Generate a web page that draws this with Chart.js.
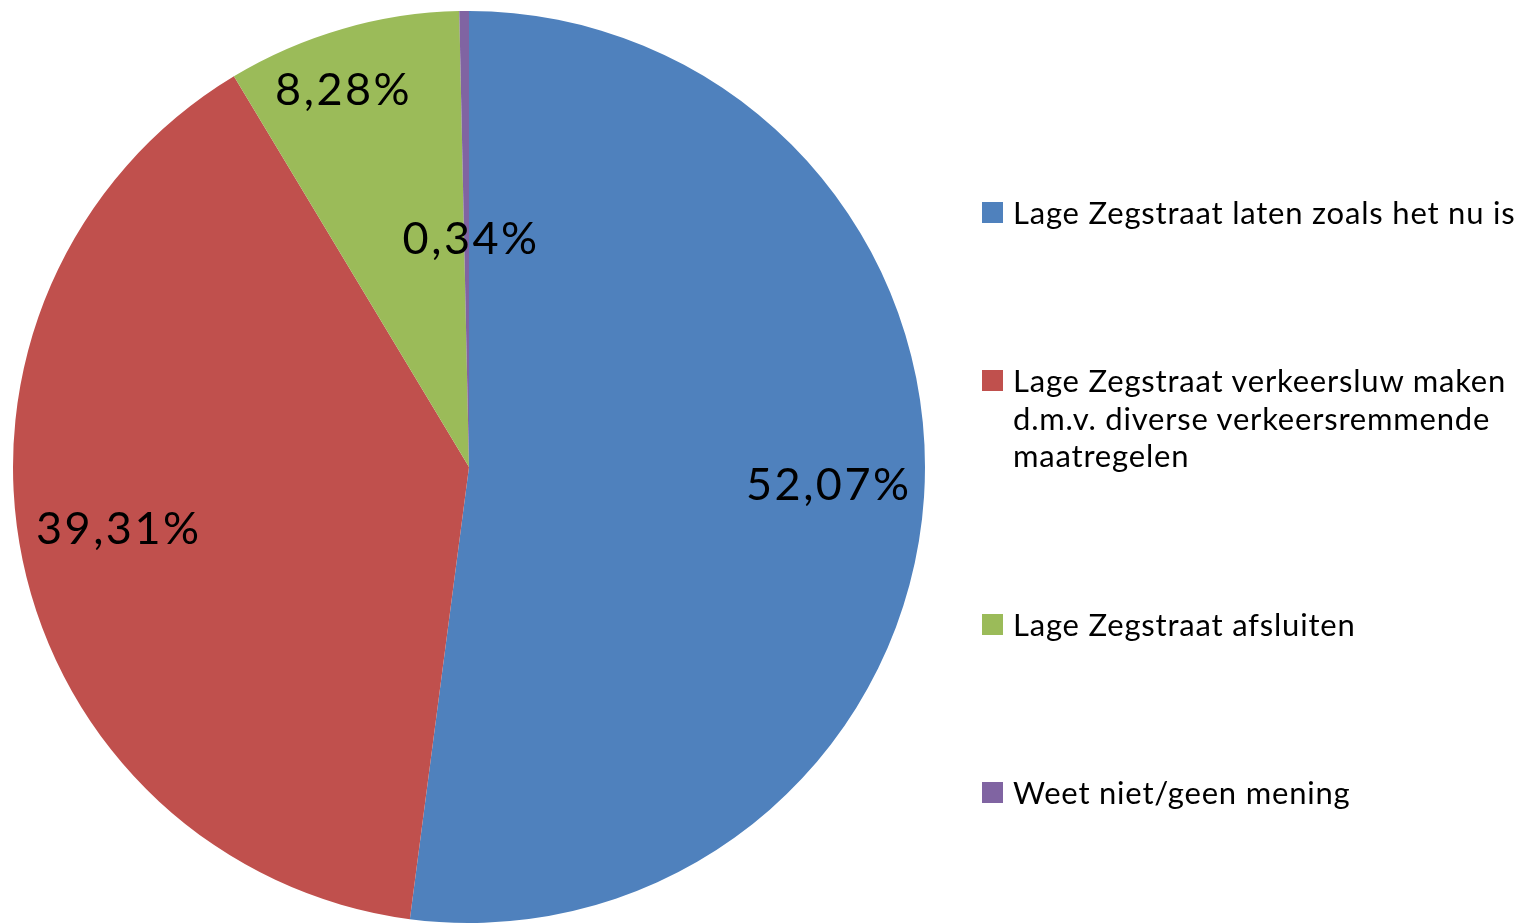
<!DOCTYPE html>
<html>
<head>
<meta charset="utf-8">
<script src="https://cdn.jsdelivr.net/npm/chart.js@4"></script>
<style>
    html, body { margin: 0; padding: 0; background: #fff; }
    #wrap { position: relative; width: 1528px; height: 923px; }
    #legend { position: absolute; left: 982px; top: 0; font-family: Lato, "Noto Sans", sans-serif; font-size: 31px; letter-spacing: 0.8px; line-height: 37.5px; color: #000; }
    .item { position: absolute; left: 0; white-space: nowrap; }
    .box { position: absolute; left: 0; top: 8px; width: 21px; height: 21px; }
    .txt { position: absolute; left: 31px; top: 0; }
</style>
</head>
<body>
<div id="wrap">
    <canvas id="pieChart" width="1528" height="923"></canvas>
    <div id="legend"></div>
</div>
<script>
// Data dari grafik
const labels = [
    'Lage Zegstraat laten zoals het nu is',
    'Lage Zegstraat verkeersluw maken d.m.v. diverse verkeersremmende maatregelen',
    'Lage Zegstraat afsluiten',
    'Weet niet/geen mening'
];
const percentages = [52.07, 39.31, 8.28, 0.34];
const colors = ['#4F81BD', '#C0504D', '#9BBB59', '#8064A2'];

// Regels van de legenda (zoals in het origineel afgebroken)
const legendLines = [
    ['Lage Zegstraat laten zoals het nu is'],
    ['Lage Zegstraat verkeersluw maken', 'd.m.v. diverse verkeersremmende', 'maatregelen'],
    ['Lage Zegstraat afsluiten'],
    ['Weet niet/geen mening']
];
const legendTops = [194, 362, 606, 774];

// Afstand van label tot middelpunt (fractie van straal) en hoekcorrectie
const labelRadius = [0.79, 0.78, 0.87, 0.50];
const labelAngleShift = [-0.015, 0.03, -0.04, 0.02];

function formatPct(v) {
    return v.toFixed(2).replace('.', ',') + '%';
}

// Plugin om percentages op de taartpunten te tekenen
const pctLabels = {
    id: 'pctLabels',
    afterDatasetsDraw(chart) {
        const ctx = chart.ctx;
        const meta = chart.getDatasetMeta(0);
        ctx.save();
        ctx.font = '45px Lato, "Noto Sans", sans-serif';
        ctx.letterSpacing = '2.5px';
        ctx.fillStyle = '#000';
        ctx.textAlign = 'center';
        ctx.textBaseline = 'middle';
        meta.data.forEach((arc, i) => {
            const p = arc.getProps(['x', 'y', 'startAngle', 'endAngle', 'outerRadius'], true);
            const mid = (p.startAngle + p.endAngle) / 2 + labelAngleShift[i];
            const r = p.outerRadius * labelRadius[i];
            ctx.fillText(formatPct(percentages[i]), p.x + Math.cos(mid) * r, p.y + Math.sin(mid) * r);
        });
        ctx.restore();
    }
};

const ctxPie = document.getElementById('pieChart').getContext('2d');
const pieChart = new Chart(ctxPie, {
    type: 'pie',
    data: {
        labels: labels,
        datasets: [{
            data: percentages,
            backgroundColor: colors,
            borderWidth: 0
        }]
    },
    options: {
        responsive: false,
        animation: false,
        layout: {
            padding: { left: 13, top: 11, right: 603, bottom: 0 }
        },
        plugins: {
            legend: { display: false },
            tooltip: { enabled: false }
        }
    },
    plugins: [pctLabels]
});

// Legenda als HTML
const legendEl = document.getElementById('legend');
legendLines.forEach((lines, i) => {
    const item = document.createElement('div');
    item.className = 'item';
    item.style.top = legendTops[i] + 'px';
    const box = document.createElement('div');
    box.className = 'box';
    box.style.background = colors[i];
    const txt = document.createElement('div');
    txt.className = 'txt';
    txt.innerHTML = lines.join('<br>');
    item.appendChild(box);
    item.appendChild(txt);
    legendEl.appendChild(item);
});
</script>
</body>
</html>
